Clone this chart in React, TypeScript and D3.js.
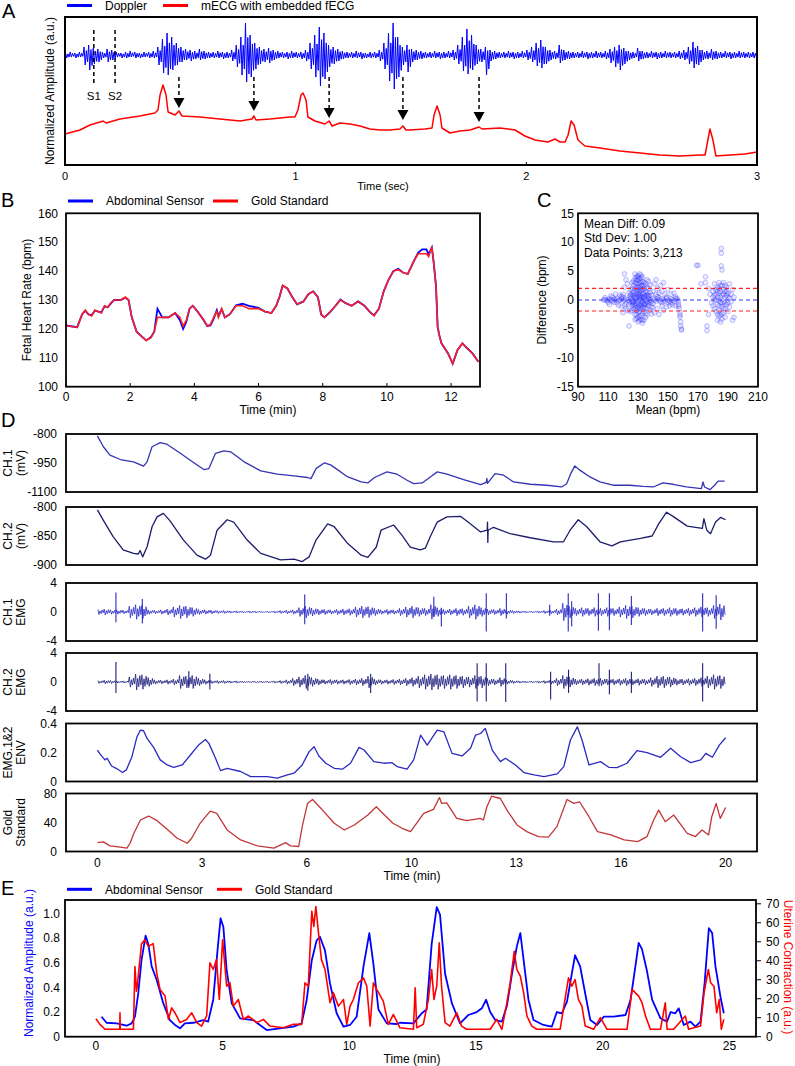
import React from "react";
import * as d3 from "d3";

const FONT = "'Liberation Sans', Arial, Helvetica, sans-serif";

// ---------------- Panel A data ----------------
const aTicks = [0, 1, 2, 3];
const dopplerBinSec = 0.02;
const dopplerBase = 110;
const dopplerHi = [2,3,2,3, 8,10,7,6, 3, 6,5, 3,2,3,4,3,2,3,3,4, 8,16,22,18,12,8,6, 5,4,6,4,3,3,4,3,3,5, 10,18,32,20,12,8,6, 7,5,4, 3,3,4,3,3,5, 12,20,28,22,10,8, 6,4, 3,3,4,3,2,3,3,5, 12,22,32,18,8,10, 6,5,4,3,3,4,3,3,4,5, 10,18,26,20,10,6,8, 5,4,3,3,4,3,3,4,5, 8,12,15,8,5,4,10, 5,4,3,3,4,3,3,4,3,4, 6,8,10,7,4,3,7, 4,3,4,3,3,4,3,3,4,5, 8,13,9,5,4,6,4, 3,4,3,3,4,3,3,3];
const dopplerLo = [3,2,3,2, 10,15,9,7, 3, 7,5, 2,3,3,2,3,3,2,3,3, 10,18,20,15,10,7,5, 6,4,5,4,3,3,3,4,3,6, 12,20,27,22,14,9,7, 8,5,3, 3,4,3,3,4,6, 14,22,31,24,12,9, 6,4, 3,3,3,4,3,3,3,6, 14,26,34,22,10,17, 7,5,4,3,3,3,4,3,3,5, 9,16,19,15,9,7,20, 6,4,3,3,3,4,3,3,5, 7,11,13,9,5,4,8, 5,4,3,3,3,4,3,3,3,4, 8,12,15,9,5,3,6, 4,3,3,4,3,3,3,3,4,5, 9,13,10,5,4,5,4, 3,3,4,3,3,3,3,3];
const ecgTime = [0,0.065,0.108,0.152,0.165,0.178,0.238,0.325,0.368,0.39,0.403,0.412,0.425,0.438,0.447,0.477,0.494,0.507,0.585,0.672,0.759,0.811,0.819,0.828,0.889,0.975,0.997,1.01,1.023,1.032,1.045,1.053,1.084,1.127,1.145,1.158,1.192,1.236,1.279,1.322,1.366,1.409,1.452,1.465,1.478,1.496,1.561,1.591,1.6,1.613,1.626,1.634,1.669,1.712,1.756,1.795,1.808,1.886,1.951,1.994,2.038,2.094,2.124,2.146,2.168,2.181,2.194,2.207,2.224,2.254,2.319,2.406,2.493,2.579,2.666,2.753,2.775,2.783,2.796,2.809,2.822,2.883,2.948,3.0];
const ecgValue = [31,35,40,43,44,42,46,49,51,52,55,70,80,70,53,50,54,49,48,46,44,46,49,45,46,48,48,55,70,72,65,48,44,41,44,39,42,41,39,36,35,35,36,39,35,35,36,37,50,59,50,37,32,34,35,38,36,37,35,29,25,23,26,23,23,30,44,40,25,19,17,14,12,10,9,10,10,20,36,25,9,10,11,13];
const heartSoundTimes = [0.125, 0.217];
const heartSoundLabels = ["S1", "S2"];
const fecgArrowTimes = [0.494, 0.819, 1.145, 1.465, 1.795];
const fecgArrowTips = [57, 54, 47, 45, 43];

// ---------------- Panel B data ----------------
const bXTicks = [0, 2, 4, 6, 8, 10, 12];
const bYTicks = [100, 110, 120, 130, 140, 150, 160];
const fhrTime = [0,0.1,0.35,0.5,0.6,0.7,0.8,0.9,1.0,1.1,1.2,1.3,1.4,1.5,1.7,1.85,1.95,2.05,2.2,2.4,2.5,2.65,2.75,2.85,3.0,3.2,3.4,3.55,3.65,3.75,3.85,3.95,4.1,4.3,4.4,4.5,4.6,4.7,4.75,4.85,4.95,5.1,5.3,5.5,5.7,6.0,6.2,6.4,6.55,6.65,6.75,6.9,7.05,7.2,7.4,7.55,7.7,7.85,7.95,8.05,8.2,8.4,8.55,8.7,8.9,9.1,9.3,9.5,9.6,9.75,9.9,10.05,10.2,10.35,10.5,10.65,10.82,10.97,11.1,11.23,11.3,11.4,11.46,11.53,11.58,11.63,11.7,11.9,12.05,12.2,12.35,12.5,12.66,12.85];
const fhrGold = [121,121,120.5,125,126.5,125,124.5,126.5,126,125.5,128,127.5,129,130,130,131,130,124,119,117,116,117,119,124,124,124,125.5,124,121,123,127,128,126,123,121,121.5,124,126,124,127,124,125,128,128,127,127,126,125.5,128,131,135,134,131,128.5,129.5,132,133,131,125,124,125.5,128,130,129,128,129.5,128,125.5,124.5,127,133,137,140,140.5,139.5,139,143,146,146,146,145,148.4,142.7,134.6,120.8,117.9,115,111.6,108,112.7,115,113.3,111.6,108.6];
const fhrAbd = [121.3,121,120.6,125,126.3,125,124.8,126.3,126,125.7,127.8,127.5,128.8,130,130,130.8,130,124,119,117,116,117.2,119,127,124,124,125.5,123,120,122.5,127,128,126,122.8,121,121.2,123.5,126.5,124.5,126.8,124,125,128.2,128.7,128,127.3,126,125.5,128,131,135,134,131,128.5,129.5,132,133,131,125,124,125.5,128,130.2,129,128,129.5,128,125.5,124.7,127,133,137,140,140.8,139.5,139,143,146.3,147.5,147.5,145.8,148.2,142.7,134.6,120.8,117.9,115,111.6,108,112.7,115,113.3,111.6,108.6];

// ---------------- Panel C data ----------------
const cXTicks = [90, 110, 130, 150, 170, 190, 210];
const cYTicks = [-15, -10, -5, 0, 5, 10, 15];
const cStats = ["Mean Diff: 0.09", "Std Dev: 1.00", "Data Points: 3,213"];
const baMeanDiff = 0;
const baUpper = 2.0;
const baLower = -1.9;
const baPoints: [number, number][] = [
  [107,0],[108,0.1],[109,-0.1],[110,0],[111,0.2],[112,0],[113,-0.2],[114,0.1],[115,0],[116,0.3],[117,-0.1],[118,0],[119,0.2],[120,-0.2],[121,0],[122,0.3],[123,0],[124,-0.3],[125,0.2],[126,0],[127,-0.2],[128,0.3],[129,0],[130,-0.3],[131,0.2],[132,0],[133,-0.2],[134,0.3],[135,0],[136,-0.3],[137,0.2],[138,0],[139,-0.2],[140,0.3],[141,0],[142,-0.2],[143,0.2],[144,0],[145,-0.3],[146,0.2],[147,0],[148,-0.2],[149,0.3],[150,0],[151,-0.2],[152,0.2],[153,0],[154,-0.3],[155,0.2],[156,0],[157,-0.2],
  [110,-0.4],[113,0.5],[116,-0.5],[119,0.6],[122,-0.6],[125,0.7],[128,-0.7],[131,0.8],[134,-0.7],[137,0.6],[140,-0.6],[143,0.6],[146,-0.5],[149,0.5],[152,-0.5],[155,0.5],
  [108,0.4],[114,-0.4],[120,0.5],[126,-0.3],[132,0.4],[138,-0.4],[144,0.4],[150,-0.4],[156,0.3],
  [126,1],[126,-1],[127,1.5],[127,-1.5],[127,2.5],[128,2],[128,-1],[128,3],[128,-2.5],[129,1],[129,-1.8],[129,3.5],[129,2.2],[130,1.2],[130,-1.2],[130,4.2],[130,2.8],[130,-3],[130,1.8],[131,-2],[131,3],[131,2.3],[131,-0.9],[131,4.5],[132,1.5],[132,-1.5],[132,3.8],[132,-2.7],[132,2.5],[133,-3.5],[133,1],[133,3.2],[133,-1.2],[133,-4],[134,2],[134,-2],[134,1.2],[134,-0.8],[135,2.8],[135,-2.3],[135,1.5],[136,-1.5],[136,0.9],[136,3.5],[137,-1],[137,2],[138,1.3],[138,-1.8],[139,0.8],[139,-1.2],[126,3],[125,-2],[125,1.8],[124,-4.5],[124,1.2],[123,2.8],[122,-1.5],[122,3.5],[121,4.5],[121,2.2],[120,1],[120,-2.2],[119,-1.2],[118,0.8],[117,-0.9],[115,1],[112,0.7],[111,-0.8],
  [129,4],[128,4.5],[131,-2.9],[130,-3.8],[132,-1],[129,-2.5],[127,-0.8],[126,2],[133,2.5],[134,3],[135,-3],[136,-2.6],[137,3.2],[134,-3.5],
  [126,0.5],[126,-0.5],[127,0.8],[127,-0.4],[128,1.2],[128,-1.5],[128,0.6],[129,-0.6],[129,1.6],[129,0.4],[130,0.7],[130,-0.7],[130,2.2],[130,3.4],[130,-2.1],[131,1.1],[131,-1.4],[131,3.7],[131,0.5],[132,0.6],[132,-0.6],[132,2],[132,3.1],[133,0.5],[133,-0.5],[133,1.8],[133,-2.3],[134,0.6],[134,-1.3],[134,2.5],[135,0.7],[135,-0.7],[135,-1.5],[136,0.5],[136,-0.5],[136,2.2],[137,0.8],[137,-0.6],[128,3.8],[129,2.9],[130,-1.6],[131,1.6],[132,-3.3],[133,4],[127,3.3],[126,-1.8],[125,0.9],[124,-0.8],[123,-1.8],[121,-1],[138,2.6],[139,-2.4],[136,1.3],[131,-3.5],[129,-3.2],[130,3.9],[132,4.3],[128,-3.4],
  [140,1.5],[140,-1.3],[141,2.8],[141,-2.2],[142,1],[142,3.5],[143,-1.5],[143,2],[144,-2.5],[144,1.2],[145,2.5],[146,-1],[146,1.5],[147,3],[147,-1.8],[148,1],[149,-1.2],[150,1.8],[151,-1],[152,1],[153,-0.8],[154,1.2],[155,-1],
  [157,-0.8],[157.5,-1.5],[158,-2.2],[158,-3],[158.5,-3.8],[158.5,-4.5],[159,-5],[159,-5.2],[158,-2.6],[157,-1.1],
  [169,6],[170,6],[172,2.8],[175,4],[175,3],[176,-4.5],[176,-5.3],[177,2],[177,-2.5],[178,1],[179,-0.5],[180,1.5],[180,0.5],[180,-1],[181,2.8],[181,-1.5],[181,0.8],[182,0],[182,1.8],[182,-2],[183,0.5],[183,-0.8],[183,2.2],[183,-3.5],[184,1.2],[184,-1.8],[184,0],[184,3],[185,-0.5],[185,1.5],[185,-2.6],[185,-3.8],[185.5,8.9],[185.5,8.1],[185.5,5.9],[186,5.2],[186,0.8],[186,-1.2],[186,2.5],[187,-0.3],[187,1.8],[187,-2.2],[187,3],[188,0.5],[188,-1.5],[188,1.5],[188,-3],[189,0.8],[189,-0.8],[189,2.2],[190,-0.5],[190,1.2],[190,-2],[191,0.3],[191,2.8],[191,-1.2],[192,1],[192,-0.3],[193,1.8],[193,-3.5],[194,-3],[194,0.5],[183,-2.5],[184,-2.8],[186,-2.4],[187,-1.5],[182,1],[181,0],
  [183,1.5],[184,-1],[185,0.5],[186,-0.5],[187,1],[188,-0.5],[189,1.5],[190,0.5],[185,2.5],[184,2],[186,-3.3],[188,2.5]
];

// ---------------- Panel D data ----------------
const dXTickValues = [0, 3.333, 6.667, 10, 13.333, 16.667, 20];
const dXTickLabels = ["0", "3", "6", "10", "13", "16", "20"];
const ch1Series: [number, number][] = [[0,-810],[0.19,-866],[0.4,-909],[0.73,-932],[1.15,-944],[1.47,-966],[1.58,-944],[1.74,-866],[2.0,-845],[2.2,-852],[2.64,-900],[3.07,-949],[3.39,-984],[3.55,-979],[3.76,-900],[4.03,-887],[4.24,-892],[4.67,-944],[5.2,-991],[5.73,-1008],[6.26,-1017],[6.69,-1025],[6.8,-1031],[6.96,-979],[7.23,-949],[7.44,-961],[7.97,-1022],[8.4,-1048],[8.61,-1053],[8.82,-1025],[9.22,-996],[9.54,-1008],[9.86,-1039],[10.07,-1057],[10.34,-1053],[10.6,-1022],[10.82,-996],[11.13,-1008],[11.66,-1036],[12.2,-1062],[12.38,-1050],[12.4,-1030],[12.42,-1055],[12.66,-1005],[12.93,-1013],[13.25,-1048],[13.78,-1060],[14.3,-1065],[14.78,-1074],[14.94,-1057],[15.07,-1005],[15.2,-965],[15.36,-987],[15.68,-1022],[16.0,-1048],[16.42,-1065],[16.95,-1065],[17.38,-1071],[17.7,-1074],[18.0,-1053],[18.33,-1060],[18.75,-1074],[19.23,-1083],[19.28,-1048],[19.33,-1074],[19.5,-1088],[19.65,-1065],[19.76,-1044],[19.97,-1044]];
const ch2Series: [number, number][] = [[0,-805],[0.19,-823],[0.5,-851],[0.82,-874],[1.15,-880],[1.3,-881],[1.36,-875],[1.44,-886],[1.58,-869],[1.74,-834],[1.9,-817],[2.1,-811],[2.3,-823],[2.74,-857],[3.17,-883],[3.44,-890],[3.6,-883],[3.81,-840],[4.13,-822],[4.34,-826],[4.77,-857],[5.2,-880],[5.83,-891],[6.26,-890],[6.52,-894],[6.74,-886],[6.96,-857],[7.33,-829],[7.54,-834],[7.97,-863],[8.4,-883],[8.61,-887],[8.88,-869],[9.03,-840],[9.43,-831],[9.7,-849],[9.96,-869],[10.28,-874],[10.44,-871],[10.6,-851],[10.82,-826],[10.92,-823],[11.13,-817],[11.56,-816],[11.87,-829],[12.2,-843],[12.41,-840],[12.42,-826],[12.43,-861],[12.44,-840],[12.61,-835],[13.14,-846],[13.78,-853],[14.52,-860],[14.84,-860],[15.05,-840],[15.31,-822],[15.58,-834],[16.0,-860],[16.38,-867],[16.65,-860],[17.29,-854],[17.66,-850],[17.87,-829],[18.12,-809],[18.35,-817],[18.78,-833],[19.26,-837],[19.31,-820],[19.4,-840],[19.52,-846],[19.68,-826],[19.84,-818],[20.0,-822]];
const emgBinMin = 0.2;
const emg1Amp = [0.35,0.4,0.3, 0.3,0.25, 0.8,1.0,0.9, 0.3,0.25,0.3,0.4, 0.7,0.9,0.8,0.6, 0.35,0.3,0.25,0.2,0.2, 0.15,0.15,0.12,0.15,0.12,0.1,0.12,0.15,0.2,0.25,0.3, 0.6,0.8,0.55,0.4, 0.35,0.3,0.35,0.4,0.45, 0.7,0.8,0.75,0.5, 0.3,0.35,0.3,0.5,0.7, 0.8,0.6,0.5,1.0,0.6, 0.35,0.4,0.5,0.45,0.8, 1.0,0.6,0.4,0.35,0.5, 0.3,0.2,0.15,0.12,0.12,0.15,0.2, 0.25,0.4,1.2, 0.8,0.5,0.6,0.5,0.6, 0.5,0.6,0.5,0.7,0.9, 0.8,0.6,0.5,0.4,0.5, 0.5,0.6,0.5,0.45,0.5, 0.6,0.7,0.6,0.9,1.1];
const emg1Spikes: [number, number, number][] = [[0.59,2.7,-1.4],[1.43,1.8,-1.6],[6.6,2.4,-1.7],[10.71,2.1,-0.7],[10.95,0.6,-2.0],[12.38,2.6,-2.7],[13.02,2.6,-0.9],[14.4,1.0,-0.5],[14.99,2.6,-2.7],[15.1,1.5,-2.0],[15.95,2.6,-2.6],[16.3,2.6,-2.5],[17.0,2.2,-1.8],[19.27,2.6,-2.7],[19.7,2.3,-2.3]];
const emg2Amp = [0.2,0.25,0.2, 0.15,0.15, 0.7,1.1,1.0, 0.6,0.3,0.25,0.3, 0.4,0.9,0.8,0.9, 0.5,0.3,0.2,0.2,0.2, 0.15,0.15,0.12,0.1,0.1,0.12,0.12,0.15,0.2,0.3,0.5, 0.7,0.9,0.6,0.4, 0.3,0.35,0.3,0.3,0.35, 0.4,0.5,0.8,0.4, 0.3,0.3,0.35,0.4,0.5, 0.6,0.8,1.0,1.1,1.0, 0.9,1.0,0.9,0.8,0.7, 0.9,0.8,0.5,0.4,0.6, 0.3,0.2,0.15,0.12,0.12,0.15,0.2, 0.3,0.5,0.9, 0.7,0.4,0.4,0.45,0.5, 0.5,0.4,0.4,0.45,0.5, 0.4,0.45,0.4,0.6,0.8, 0.8,0.7,0.45,0.4,0.45, 0.5,0.6,0.8,1.0,0.9];
const emg2Spikes: [number, number, number][] = [[0.59,2.75,-1.5],[2.91,1.5,-0.8],[3.58,1.15,-1.05],[6.7,1.15,-1.2],[8.7,1.15,-1.5],[12.09,2.6,-2.7],[12.38,2.6,-2.7],[13.0,2.6,-2.75],[14.43,1.4,-2.4],[15.0,1.7,-1.5],[15.97,2.6,-0.6],[16.3,1.7,-1.7],[17.0,1.4,-1.5],[19.27,2.6,-2.7]];
const envSeries: [number, number][] = [[0,0.217],[0.08,0.19],[0.24,0.149],[0.31,0.16],[0.45,0.107],[0.6,0.091],[0.8,0.062],[0.92,0.08],[1.1,0.171],[1.26,0.309],[1.37,0.354],[1.47,0.35],[1.58,0.297],[1.79,0.235],[2.0,0.149],[2.22,0.114],[2.43,0.098],[2.7,0.114],[2.96,0.183],[3.22,0.251],[3.44,0.29],[3.55,0.263],[3.76,0.16],[3.92,0.075],[4.13,0.091],[4.56,0.069],[4.88,0.034],[5.41,0.034],[5.73,0.023],[6.05,0.046],[6.26,0.057],[6.52,0.114],[6.74,0.206],[6.9,0.24],[7.05,0.176],[7.27,0.126],[7.54,0.091],[7.8,0.085],[8.06,0.126],[8.33,0.235],[8.49,0.217],[8.8,0.137],[9.12,0.126],[9.38,0.13],[9.54,0.103],[9.86,0.085],[10.07,0.149],[10.29,0.32],[10.5,0.251],[10.82,0.354],[11.03,0.343],[11.29,0.194],[11.61,0.176],[11.88,0.229],[12.04,0.32],[12.2,0.331],[12.35,0.366],[12.57,0.217],[12.83,0.137],[12.99,0.16],[13.31,0.114],[13.58,0.062],[13.9,0.046],[14.22,0.034],[14.64,0.053],[14.85,0.103],[15.06,0.286],[15.28,0.377],[15.43,0.286],[15.65,0.114],[16.02,0.137],[16.28,0.098],[16.54,0.096],[16.86,0.126],[17.18,0.213],[17.5,0.199],[17.93,0.167],[18.25,0.229],[18.57,0.171],[18.89,0.13],[19.21,0.149],[19.37,0.194],[19.58,0.167],[19.8,0.251],[20.0,0.302]];
const goldSeries: [number, number][] = [[0,12.3],[0.19,13.3],[0.4,7.8],[0.73,5.9],[0.94,4.6],[1.04,11.4],[1.15,24.2],[1.37,43.4],[1.63,48.9],[1.9,42.5],[2.22,30.6],[2.54,18.3],[2.86,11.4],[3.0,18.3],[3.27,38.9],[3.59,55.8],[3.8,52.6],[4.13,29.7],[4.56,16.0],[5.09,7.8],[5.62,4.6],[5.99,12.3],[6.15,7.8],[6.41,6.9],[6.52,34.3],[6.69,66.3],[6.85,71.8],[7.12,59.4],[7.54,38.9],[7.86,29.7],[8.18,36.6],[8.61,50.3],[8.88,61.7],[9.14,50.3],[9.41,38.9],[9.7,32.0],[9.97,27.4],[10.39,52.6],[10.7,58.1],[10.89,74.5],[10.96,66.3],[11.12,67.2],[11.44,45.7],[11.76,42.5],[12.19,45.7],[12.29,43.4],[12.4,61.7],[12.55,76.3],[12.83,73.1],[13.04,57.1],[13.36,36.6],[13.67,27.4],[14.04,20.6],[14.36,19.7],[14.63,34.3],[14.95,71.8],[15.17,66.3],[15.35,68.6],[15.65,48.0],[15.92,27.4],[16.35,22.9],[16.77,16.0],[17.2,13.7],[17.5,20.6],[17.71,43.4],[17.87,57.1],[18.08,41.1],[18.35,50.3],[18.62,34.3],[18.78,25.1],[19.04,20.6],[19.25,29.7],[19.46,22.9],[19.56,48.0],[19.7,66.3],[19.83,45.7],[20.0,60.8]];

// ---------------- Panel E data ----------------
const eXTicks = [0, 5, 10, 15, 20, 25];
const eLeftTicks = [0, 0.2, 0.4, 0.6, 0.8, 1.0];
const eRightTicks = [0, 10, 20, 30, 40, 50, 60, 70];
const eAbdTime = [0.22,0.42,0.82,1.21,1.41,1.54,1.67,1.8,1.96,2.07,2.2,2.4,2.66,2.92,3.12,3.32,3.51,3.84,4.24,4.43,4.63,4.79,4.92,5.03,5.16,5.36,5.69,6.21,6.47,6.74,7.26,7.79,8.12,8.32,8.52,8.71,8.84,9.04,9.24,9.5,9.77,10.03,10.29,10.56,10.79,10.95,11.15,11.48,11.87,12.0,12.53,12.86,13.05,13.25,13.45,13.58,13.78,14.05,14.37,14.7,15.03,15.23,15.4,15.56,15.76,16.02,16.22,16.42,16.61,16.75,16.88,17.07,17.27,17.66,17.99,18.19,18.39,18.59,18.78,18.91,19.11,19.31,19.51,19.78,20.04,20.43,20.9,21.1,21.29,21.42,21.55,21.75,21.95,22.28,22.54,22.68,22.87,23.0,23.2,23.46,23.66,23.86,24.02,24.19,24.32,24.45,24.65,24.78];
const eAbdValue = [0.162,0.113,0.108,0.089,0.108,0.162,0.35,0.62,0.82,0.75,0.57,0.46,0.27,0.135,0.095,0.068,0.108,0.113,0.135,0.122,0.30,0.68,0.96,0.89,0.54,0.27,0.149,0.135,0.095,0.054,0.068,0.081,0.108,0.30,0.62,0.78,0.81,0.70,0.43,0.19,0.081,0.095,0.162,0.57,0.84,0.59,0.22,0.108,0.103,0.113,0.108,0.19,0.22,0.75,1.05,0.99,0.51,0.27,0.108,0.176,0.2,0.23,0.30,0.2,0.135,0.122,0.25,0.51,0.73,0.84,0.62,0.30,0.135,0.095,0.081,0.2,0.19,0.285,0.51,0.66,0.57,0.35,0.135,0.095,0.162,0.162,0.176,0.30,0.57,0.76,0.71,0.53,0.30,0.149,0.122,0.2,0.19,0.23,0.095,0.122,0.081,0.122,0.43,0.88,0.84,0.57,0.32,0.19];
const eGoldSeries: [number, number][] = [[0,9.5],[0.16,6.5],[0.36,3.9],[0.94,3.9],[0.95,12.6],[0.96,3.9],[1.48,3.9],[1.54,37],[1.6,24],[1.63,26.6],[1.8,49],[1.93,51],[2.07,47.6],[2.26,49],[2.4,33.6],[2.53,24.9],[2.73,21.4],[2.86,9.1],[2.99,15.2],[3.12,12.6],[3.32,7.4],[3.58,9.1],[3.78,12.6],[3.98,7.4],[4.17,5.6],[4.37,10.9],[4.5,38.9],[4.63,35.4],[4.76,40.6],[4.87,19.6],[5.0,51.1],[5.16,26.6],[5.29,28.4],[5.42,16.1],[5.62,19.6],[5.82,9.1],[6.02,10.9],[6.35,7.4],[6.61,9.1],[6.87,5.6],[7.4,4.7],[7.79,6.5],[8.12,6.5],[8.25,28.4],[8.38,26.6],[8.52,66],[8.6,58.1],[8.68,68.6],[8.77,56.4],[8.9,40.6],[9.04,35.4],[9.24,17.9],[9.37,23.1],[9.57,16.1],[9.77,19.6],[9.9,6.5],[10.03,16.1],[10.16,19.6],[10.36,28.4],[10.56,31],[10.69,26.6],[10.82,5.6],[10.95,28.4],[11.08,24.9],[11.34,18.7],[11.54,6.5],[11.74,11.7],[12.0,4.7],[12.53,3.9],[12.6,25.7],[12.66,4.7],[12.92,6.5],[13.12,19.6],[13.25,35.4],[13.34,19.6],[13.45,26.6],[13.55,49.4],[13.64,26.6],[13.78,7.4],[13.97,5.6],[14.24,12.6],[14.43,5.6],[14.63,3.9],[15.03,3.9],[15.56,3.9],[15.82,9.1],[16.02,3.9],[16.22,17.9],[16.35,28.4],[16.51,45],[16.61,35.4],[16.75,31.9],[16.88,23.1],[17.01,10.9],[17.2,5.6],[17.4,3.9],[18.32,3.9],[18.65,31],[18.78,26.6],[18.91,30.1],[19.04,19.6],[19.18,16.1],[19.31,5.6],[19.64,3.9],[19.91,10],[20.17,3.9],[20.96,3.9],[21.16,24.9],[21.29,23.1],[21.42,21.4],[21.55,17.9],[21.69,10.9],[21.88,3.9],[22.28,3.9],[22.47,17.9],[22.54,3.9],[22.8,3.9],[23.26,10.9],[23.39,3.9],[23.86,5.6],[24.0,23.1],[24.17,35.4],[24.26,28.4],[24.39,26.6],[24.5,12.6],[24.6,19.6],[24.68,3.9],[24.78,9.1]];

// ---------------- helpers ----------------
const T = (props: any) => <text fontFamily={FONT} fontSize={12} fill="#000" {...props} />;

function Legend({ x, y, items }: { x: number; y: number; items: { label: string; color: string; gap: number }[] }) {
  let cx = x;
  return (
    <g>
      {items.map((it, i) => {
        const g = (
          <g key={i}>
            <line x1={cx} x2={cx + 25} y1={y} y2={y} stroke={it.color} strokeWidth={3} />
            <T x={cx + 38} y={y + 4.3}>{it.label}</T>
          </g>
        );
        cx += it.gap;
        return g;
      })}
    </g>
  );
}

function PanelLetter({ x, y, s }: { x: number; y: number; s: string }) {
  return <text x={x} y={y} fontFamily={FONT} fontSize={20}>{s}</text>;
}

// oscillation drawn inside an envelope bin (rendering style only)
const OSC = [1, 1, 0.55, 0.7];
const OSC6 = [1, 1, 0.45, 0.6, 0.8, 0.35];

// ---------------- Panel A ----------------
function PanelA() {
  const x = d3.scaleLinear().domain([0, 3]).range([65, 757]);
  const y = d3.scaleLinear().domain([0, 148]).range([165, 17]);
  const dopPts: [number, number][] = [];
  dopplerHi.forEach((h, i) => {
    const t0 = i * dopplerBinSec;
    OSC.forEach((f, k) => {
      const up = k % 2 === 0;
      dopPts.push([x(t0 + (dopplerBinSec * (k + 0.5)) / OSC.length), y(dopplerBase + (up ? h * f : -dopplerLo[i] * f))]);
    });
  });
  const dopPath = d3.line()(dopPts) || "";
  const ecgPath = d3.line<number>().x((_, i) => x(ecgTime[i])).y((v) => y(v))(ecgValue) || "";
  return (
    <g>
      <PanelLetter x={2} y={18} s="A" />
      <Legend x={67} y={5.5} items={[{ label: "Doppler", color: "#0000ff", gap: 96 }, { label: "mECG with embedded fECG", color: "#ff0000", gap: 0 }]} />
      <path d={dopPath} fill="none" stroke="#0000ff" strokeWidth={1} />
      <path d={ecgPath} fill="none" stroke="#ff0000" strokeWidth={1.5} strokeLinejoin="round" />
      {heartSoundTimes.map((t, i) => (
        <g key={i}>
          <line x1={x(t)} x2={x(t)} y1={y(135)} y2={y(82)} stroke="#000" strokeWidth={1.5} strokeDasharray="4,3" />
          <T x={x(t)} y={y(65)} textAnchor="middle" fontSize={11.5}>{heartSoundLabels[i]}</T>
        </g>
      ))}
      {fecgArrowTimes.map((t, i) => {
        const tip = y(fecgArrowTips[i]);
        const cx = x(t);
        return (
          <g key={i}>
            <line x1={cx} x2={cx} y1={y(88)} y2={tip - 9} stroke="#000" strokeWidth={1.5} strokeDasharray="4,3" />
            <path d={`M${cx - 5.5},${tip - 10}L${cx + 5.5},${tip - 10}L${cx},${tip}Z`} fill="#000" />
          </g>
        );
      })}
      <rect x={65} y={17} width={692} height={148} fill="none" stroke="#000" strokeWidth={2} />
      {aTicks.map((t) => (
        <g key={t}>
          <line x1={x(t)} x2={x(t)} y1={165} y2={162} stroke="#000" strokeWidth={1} />
          <T x={x(t)} y={180} textAnchor="middle" fontSize={11}>{t}</T>
        </g>
      ))}
      <T x={383} y={189.5} textAnchor="middle" fontSize={11}>Time (sec)</T>
      <T transform="translate(50,91) rotate(-90)" dy="0.35em" textAnchor="middle">Normalized Amplitude (a.u.)</T>
    </g>
  );
}

// ---------------- Panel B ----------------
function PanelB() {
  const x = d3.scaleLinear().domain([0, 12.9]).range([66, 480]);
  const y = d3.scaleLinear().domain([100, 160]).range([386.7, 213.3]);
  const mk = (vals: number[]) => d3.line<number>().x((_, i) => x(fhrTime[i])).y((v) => y(v))(vals) || "";
  return (
    <g>
      <PanelLetter x={1} y={207} s="B" />
      <Legend x={68} y={201} items={[{ label: "Abdominal Sensor", color: "#0000ff", gap: 145 }, { label: "Gold Standard", color: "#ff0000", gap: 0 }]} />
      <path d={mk(fhrAbd)} fill="none" stroke="#0000ff" strokeWidth={1.8} />
      <path d={mk(fhrGold)} fill="none" stroke="#ff2020" strokeWidth={1.6} />
      <rect x={66} y={213.3} width={414} height={173.4} fill="none" stroke="#000" strokeWidth={1.8} />
      {bYTicks.map((v) => (
        <T key={v} x={58} y={y(v)} dy="0.35em" textAnchor="end">{v}</T>
      ))}
      {bXTicks.map((v) => (
        <g key={v}>
          <line x1={x(v)} x2={x(v)} y1={386.7} y2={383} stroke="#000" />
          <T x={x(v)} y={401} textAnchor="middle">{v}</T>
        </g>
      ))}
      <T x={268} y={413.5} textAnchor="middle">Time (min)</T>
      <T transform="translate(27,300) rotate(-90)" dy="0.35em" textAnchor="middle">Fetal Heart Rate (bpm)</T>
    </g>
  );
}

// ---------------- Panel C ----------------
function PanelC() {
  const x = d3.scaleLinear().domain([90, 210]).range([578, 758]);
  const y = d3.scaleLinear().domain([-15, 15]).range([386.7, 213.3]);
  return (
    <g>
      <PanelLetter x={537} y={207} s="C" />
      {baPoints.map((p, i) => (
        <circle key={i} cx={x(p[0])} cy={y(p[1])} r={2.4} fill="rgba(40,40,255,0.1)" stroke="rgba(40,40,255,0.45)" strokeWidth={0.6} />
      ))}
      <line x1={578} x2={758} y1={y(baMeanDiff)} y2={y(baMeanDiff)} stroke="#3030ff" strokeWidth={1.2} strokeDasharray="4,3" />
      <line x1={578} x2={758} y1={y(baUpper)} y2={y(baUpper)} stroke="#ff2020" strokeWidth={1.2} strokeDasharray="4,3" />
      <line x1={578} x2={758} y1={y(baLower)} y2={y(baLower)} stroke="#ff2020" strokeWidth={1.2} strokeDasharray="4,3" />
      <rect x={578} y={213.3} width={180} height={173.4} fill="none" stroke="#000" strokeWidth={1.8} />
      {cStats.map((s, i) => (
        <T key={i} x={584} y={227.5 + i * 14.7}>{s}</T>
      ))}
      {cYTicks.map((v) => (
        <T key={v} x={574} y={y(v)} dy="0.35em" textAnchor="end">{v}</T>
      ))}
      {cXTicks.map((v) => (
        <T key={v} x={x(v)} y={401} textAnchor="middle">{v}</T>
      ))}
      <T x={668} y={413.5} textAnchor="middle">Mean (bpm)</T>
      <T transform="translate(542,300) rotate(-90)" dy="0.35em" textAnchor="middle">Difference (bpm)</T>
    </g>
  );
}

// ---------------- Panel D ----------------
type DPanel = {
  top: number;
  lines: [string, string];
  domain: [number, number];
  ticks: number[];
  tickLabels: string[];
  color: string;
  kind: "series" | "emg";
  series?: [number, number][];
  amps?: number[];
  spikes?: [number, number, number][];
};

function PanelD() {
  const x = d3.scaleLinear().domain([-1, 21]).range([66, 757]);
  const h = 58;
  const panels: DPanel[] = [
    { top: 434, lines: ["CH.1", "(mV)"], domain: [-1100, -800], ticks: [-800, -950, -1100], tickLabels: ["-800", "-950", "-1100"], color: "#3434b4", kind: "series", series: ch1Series },
    { top: 507, lines: ["CH.2", "(mV)"], domain: [-900, -800], ticks: [-800, -850, -900], tickLabels: ["-800", "-850", "-900"], color: "#1c1c6c", kind: "series", series: ch2Series },
    { top: 583, lines: ["CH.1", "EMG"], domain: [-4, 4], ticks: [4, 0, -4], tickLabels: ["4", "0", "-4"], color: "#2a2ac4", kind: "emg", amps: emg1Amp, spikes: emg1Spikes },
    { top: 653, lines: ["CH.2", "EMG"], domain: [-4, 4], ticks: [4, 0, -4], tickLabels: ["4", "0", "-4"], color: "#1c1c7c", kind: "emg", amps: emg2Amp, spikes: emg2Spikes },
    { top: 723.5, lines: ["EMG.1&2", "ENV"], domain: [0, 0.4], ticks: [0.4, 0.2, 0], tickLabels: ["0.4", "0.2", "0"], color: "#2a2ac0", kind: "series", series: envSeries },
    { top: 793.5, lines: ["Gold", "Standard"], domain: [0, 80], ticks: [80, 40, 0], tickLabels: ["80", "40", "0"], color: "#c23636", kind: "series", series: goldSeries },
  ];
  return (
    <g>
      <PanelLetter x={1} y={427} s="D" />
      {panels.map((p, pi) => {
        const y = d3.scaleLinear().domain(p.domain).range([p.top + h, p.top]);
        let body: any = null;
        if (p.kind === "series" && p.series) {
          const d = d3.line<[number, number]>().x((q) => x(q[0])).y((q) => y(q[1]))(p.series) || "";
          body = <path d={d} fill="none" stroke={p.color} strokeWidth={1.3} strokeLinejoin="round" />;
        } else if (p.amps) {
          const pts: [number, number][] = [];
          p.amps.forEach((a, i) => {
            const t0 = i * emgBinMin;
            OSC6.forEach((f, k) => {
              pts.push([x(t0 + (emgBinMin * (k + 0.5)) / OSC6.length), y((k % 2 === 0 ? a : -a) * f)]);
            });
          });
          body = (
            <g>
              <path d={d3.line()(pts) || ""} fill="none" stroke={p.color} strokeWidth={0.8} />
              {(p.spikes || []).map((s, si) => (
                <line key={si} x1={x(s[0])} x2={x(s[0])} y1={y(s[1])} y2={y(s[2])} stroke={p.color} strokeWidth={1.1} />
              ))}
            </g>
          );
        }
        const cy = p.top + h / 2;
        return (
          <g key={pi}>
            {body}
            <rect x={66} y={p.top} width={691} height={h} fill="none" stroke="#000" strokeWidth={1.8} />
            {p.ticks.map((v, ti) => (
              <T key={ti} x={57} y={y(v)} dy="0.35em" textAnchor="end">{p.tickLabels[ti]}</T>
            ))}
            <T transform={`translate(8,${cy}) rotate(-90)`} dy="0.35em" textAnchor="middle">{p.lines[0]}</T>
            <T transform={`translate(21,${cy}) rotate(-90)`} dy="0.35em" textAnchor="middle">{p.lines[1]}</T>
          </g>
        );
      })}
      {dXTickValues.map((v, i) => (
        <T key={i} x={x(v)} y={867} textAnchor="middle">{dXTickLabels[i]}</T>
      ))}
      <T x={412} y={880} textAnchor="middle">Time (min)</T>
    </g>
  );
}

// ---------------- Panel E ----------------
function PanelE() {
  const x = d3.scaleLinear().domain([-1.22, 26.05]).range([65, 756]);
  const yL = d3.scaleLinear().domain([0, 1.1]).range([1036.7, 901]);
  const yR = d3.scaleLinear().domain([0, 72]).range([1036.7, 900]);
  const abd = d3.line<number>().x((_, i) => x(eAbdTime[i])).y((v) => yL(v))(eAbdValue) || "";
  const gold = d3.line<[number, number]>().x((q) => x(q[0])).y((q) => yR(q[1]))(eGoldSeries) || "";
  return (
    <g>
      <PanelLetter x={1} y={895} s="E" />
      <Legend x={67} y={889.3} items={[{ label: "Abdominal Sensor", color: "#0000ff", gap: 150 }, { label: "Gold Standard", color: "#ff0000", gap: 0 }]} />
      <path d={abd} fill="none" stroke="#0000ff" strokeWidth={1.8} strokeLinejoin="round" />
      <path d={gold} fill="none" stroke="#ff0000" strokeWidth={1.6} strokeLinejoin="round" />
      <rect x={65} y={900} width={691} height={136.7} fill="none" stroke="#000" strokeWidth={1.8} />
      {eLeftTicks.map((v) => (
        <T key={v} x={60} y={yL(v)} dy="0.35em" textAnchor="end">{v === 0 ? "0" : v.toFixed(1)}</T>
      ))}
      {eRightTicks.map((v) => (
        <g key={v}>
          <line x1={756} x2={761} y1={yR(v)} y2={yR(v)} stroke="#000" />
          <T x={766} y={yR(v)} dy="0.35em">{v}</T>
        </g>
      ))}
      {eXTicks.map((v) => (
        <T key={v} x={x(v)} y={1050} textAnchor="middle">{v}</T>
      ))}
      <T x={412} y={1063} textAnchor="middle">Time (min)</T>
      <T transform="translate(29,963) rotate(-90)" dy="0.35em" textAnchor="middle" fill="#0000ff">Normalized Amplitude (a.u.)</T>
      <T transform="translate(788,967) rotate(90)" dy="0.35em" textAnchor="middle" fill="#ff0000">Uterine Contraction (a.u.)</T>
    </g>
  );
}

export default function App() {
  return (
    <svg width={795} height={1066} viewBox="0 0 795 1066" style={{ position: "absolute", left: 0, top: 0, display: "block" }}>
      <rect width={795} height={1066} fill="#fff" />
      <PanelA />
      <PanelB />
      <PanelC />
      <PanelD />
      <PanelE />
    </svg>
  );
}
